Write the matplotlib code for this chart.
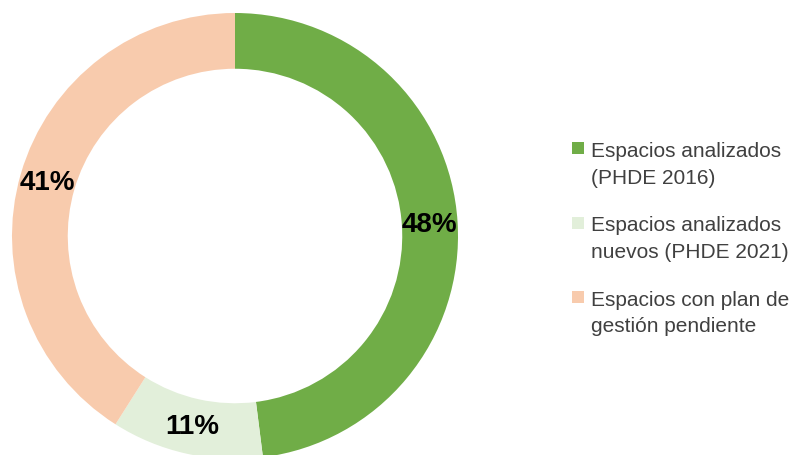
import matplotlib
matplotlib.use('Agg')
import numpy as np
import matplotlib.pyplot as plt
from matplotlib.patches import Rectangle

# data
labels = ['Espacios analizados\n(PHDE 2016)',
          'Espacios analizados\nnuevos (PHDE 2021)',
          'Espacios con plan de\ngestión pendiente']
values = [48, 11, 41]
colors = ['#70AD47', '#E2EFDA', '#F8CBAD']

plt.rcParams['font.family'] = ['Liberation Sans', 'DejaVu Sans']

W, H = 792, 456
fig = plt.figure(figsize=(W / 100, H / 100), dpi=100)

# donut: center (235, 237) px, outer radius 223 px
cx, cy, r = 235, 237, 223
ax = fig.add_axes([(cx - r) / W, (H - cy - r) / H, 2 * r / W, 2 * r / H])
wedges, _ = ax.pie(values, colors=colors, startangle=90, counterclock=False,
                   radius=1, wedgeprops=dict(width=0.25, edgecolor='none'))
ax.set_xlim(-1, 1)
ax.set_ylim(-1, 1)
ax.set_aspect('equal')
ax.axis('off')

tot = sum(values)
start = 90.0
for v in values:
    mid = np.deg2rad(start - v / tot * 360 / 2)
    ax.text(0.875 * np.cos(mid), 0.875 * np.sin(mid), '%d%%' % round(v),
            ha='center', va='center', fontsize=20, fontweight='bold', color='black')
    start -= v / tot * 360

# legend drawn by hand, square aligned to first line
base0, step, pitch = 157, 74.5, 26.5
for i, (lab, col) in enumerate(zip(labels, colors)):
    b = base0 + i * step
    fig.patches.append(Rectangle((572 / W, 1 - (b - 2) / H), 12 / W, 12 / H,
                                 transform=fig.transFigure, facecolor=col,
                                 edgecolor='none'))
    for j, line in enumerate(lab.split('\n')):
        fig.text(591 / W, 1 - (b + j * pitch) / H, line, fontsize=15,
                 color='#404040', ha='left', va='baseline')

fig.savefig('out.png', dpi=100, facecolor='white')
